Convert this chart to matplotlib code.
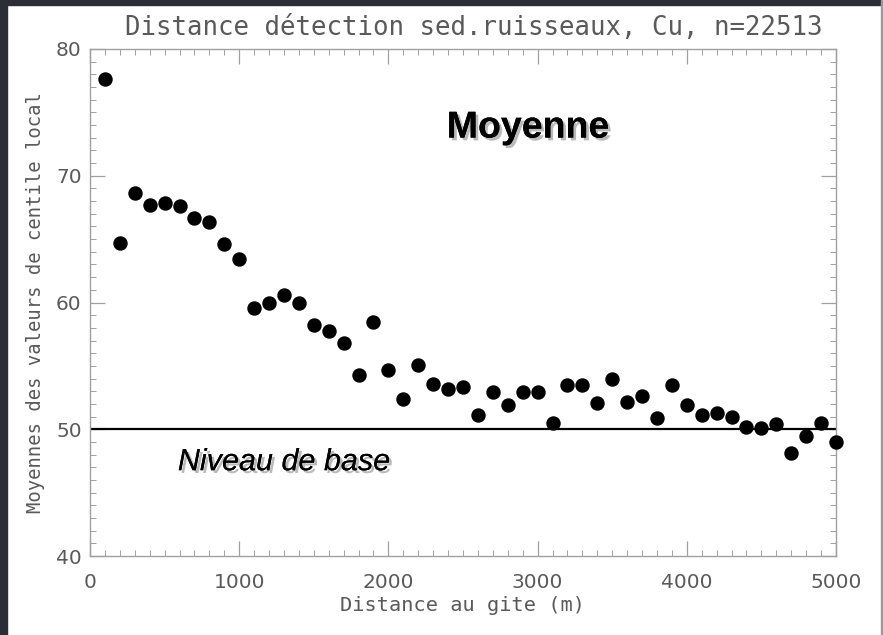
import numpy as np
import matplotlib.pyplot as plt
import matplotlib.patheffects as pe
from matplotlib.patches import Rectangle

# --------------------------------------------------
# Data
# --------------------------------------------------

distance = np.arange(100, 5001, 100)

moyenne = [
    77.6, 64.7, 68.6, 67.7, 67.85, 67.6, 66.7, 66.35, 64.6, 63.4,
    59.6, 59.95, 60.6, 59.95, 58.2, 57.75, 56.8, 54.3, 58.45, 54.7,
    52.4, 55.1, 53.6, 53.2, 53.3, 51.1, 52.9, 51.9, 52.9, 52.9,
    50.5, 53.5, 53.5, 52.1, 54.0, 52.15, 52.6, 50.9, 53.5, 51.9,
    51.1, 51.3, 51.0, 50.2, 50.1, 50.4, 48.1, 49.5, 50.5, 49.0,
]

niveau_base = 50

title = "Distance détection sed.ruisseaux, Cu, n=22513"
xlabel = "Distance au gite (m)"
ylabel = "Moyennes des valeurs de centile local"

grey = "#5a5a5a"
spine_grey = "#a0a0a0"
mono = "DejaVu Sans Mono"

# --------------------------------------------------
# Figure
# --------------------------------------------------

fig = plt.figure(figsize=(8.83, 6.35), dpi=100)
fig.patch.set_facecolor("white")

# dark frame around the slide
frame = "#2b2e37"
fig.patches.append(Rectangle((0, 0), 7 / 883, 1, transform=fig.transFigure, color=frame, zorder=0))
fig.patches.append(Rectangle((0, 1 - 5 / 635), 1, 5 / 635, transform=fig.transFigure, color=frame, zorder=0))
fig.patches.append(Rectangle((1 - 2 / 883, 0), 2 / 883, 1, transform=fig.transFigure, color="#9a9a9a", zorder=0))

ax = fig.add_axes([90 / 883, 1 - 556 / 635, 746 / 883, 507 / 635])

ax.scatter(distance, moyenne, s=88, color="black", zorder=3, clip_on=False)
ax.axhline(niveau_base, color="black", lw=1.6, zorder=2)

ax.set_xlim(0, 5000)
ax.set_ylim(40, 80)
ax.set_xticks(np.arange(0, 5001, 1000))
ax.set_xticks(np.arange(0, 5001, 100), minor=True)
ax.set_yticks(np.arange(40, 81, 10))
ax.set_yticks(np.arange(40, 81, 1), minor=True)

for s in ax.spines.values():
    s.set_color(spine_grey)
    s.set_linewidth(1.0)

ax.tick_params(which="both", direction="in", top=True, right=True, colors=spine_grey, labelcolor=grey)
ax.tick_params(which="major", length=10.5, width=0.9, labelsize=14.5)
ax.tick_params(which="minor", length=4, width=0.7)
ax.tick_params(axis="x", which="major", pad=12)
ax.tick_params(axis="y", which="major", pad=6)

ax.set_xlabel(xlabel, color=grey, family=mono, fontsize=14.6, labelpad=3)
ax.set_ylabel(ylabel, color=grey, family=mono, fontsize=13.6, labelpad=8)

fig.text(0.537, 1 - 28 / 635, title, color=grey, family=mono, fontsize=18.5,
         ha="center", va="center")

shadow = [pe.withSimplePatchShadow(offset=(2, -2), shadow_rgbFace="#777777", alpha=0.5), pe.Normal()]

ax.text(2936, 73.8, "Moyenne", family="Liberation Sans", fontweight="bold",
        fontsize=27, ha="center", va="center", color="black", path_effects=shadow)
ax.text(1300, 47.4, "Niveau de base", family="Liberation Sans", style="italic",
        fontsize=22, ha="center", va="center", color="black", path_effects=shadow)

fig.savefig("out.png", dpi=100)
